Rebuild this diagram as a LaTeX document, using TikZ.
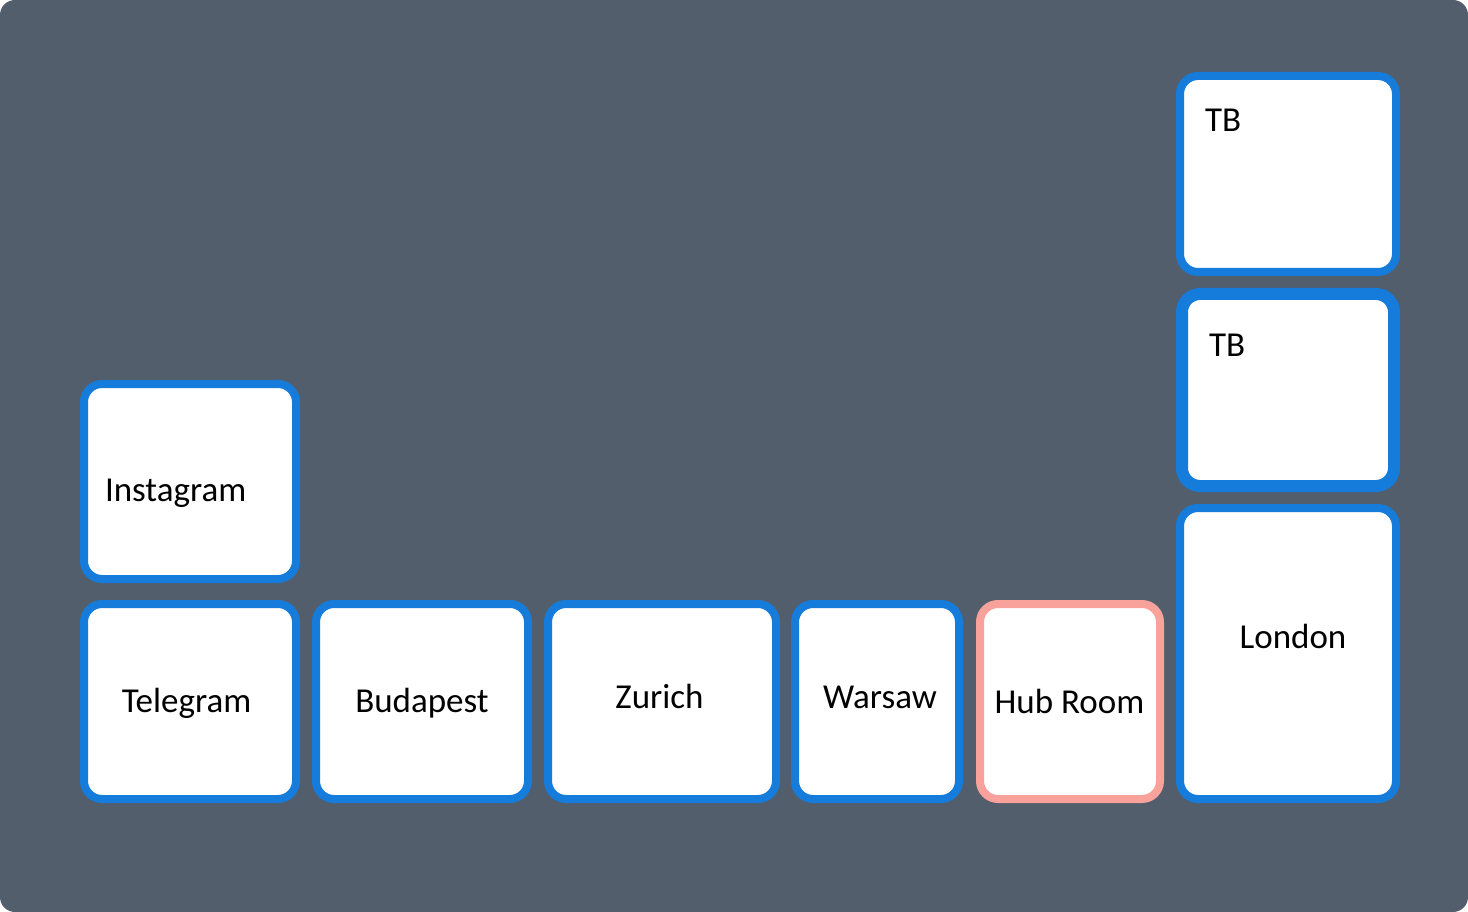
\documentclass[tikz,border=0pt]{standalone}
\usepackage{fontspec}
\setmainfont{Carlito}
\definecolor{bgc}{HTML}{525E6B}
\definecolor{blu}{HTML}{167CDB}
\definecolor{pnk}{HTML}{F9A29C}
\begin{document}
\begin{tikzpicture}[x=1pt,y=-1pt,
  box/.style={draw=blu, line width=8pt, fill=white, rounded corners=18pt, rectangle, inner sep=0pt, outer sep=0pt},
  lbl/.style={inner sep=0pt, outer sep=0pt, font=\fontsize{35}{41}\selectfont, text=black}]
\useasboundingbox (0,0) rectangle (1468,912);
\fill[white] (0,0) rectangle (1468,912);
\fill[bgc, rounded corners=15pt] (0,0) rectangle (1468,912);
% boxes
\node[box, minimum width=212pt, minimum height=195pt] (insta) at (190,481.5) {};
\node[box, minimum width=212pt, minimum height=195pt] (tele) at (190,701.5) {};
\node[box, minimum width=212pt, minimum height=195pt] (buda) at (422,701.5) {};
\node[box, minimum width=228pt, minimum height=195pt] (zuri) at (662,701.5) {};
\node[box, minimum width=164pt, minimum height=195pt] (wars) at (877,701.5) {};
\node[box, draw=pnk, minimum width=180pt, minimum height=195pt] (hub) at (1070,701.5) {};
\node[box, minimum width=216pt, minimum height=291pt] (lond) at (1288,653.5) {};
\node[box, minimum width=216pt, minimum height=196pt] (tba) at (1288,174) {};
\node[box, line width=12pt, minimum width=212pt, minimum height=192pt] (tbb) at (1288,390) {};
% labels
\node[lbl, anchor=base west] (tinsta) at (105,501) {Instagram};
\node[lbl, anchor=base] (ttele) at (186.5,712) {Telegram};
\node[lbl, anchor=base] (tbuda) at (422,712) {Budapest};
\node[lbl, anchor=base] (tzuri) at (659.5,708) {Zurich};
\node[lbl, anchor=base] (twars) at (880,708) {Warsaw};
\node[lbl, anchor=base] (thub) at (1069.5,713) {Hub Room};
\node[lbl, anchor=base] (tlond) at (1293,648) {London};
\node[lbl, anchor=base west] (ttba) at (1205,132) {TB};
\node[lbl, anchor=base west] (ttbb) at (1209,356) {TB};
\end{tikzpicture}
\end{document}
